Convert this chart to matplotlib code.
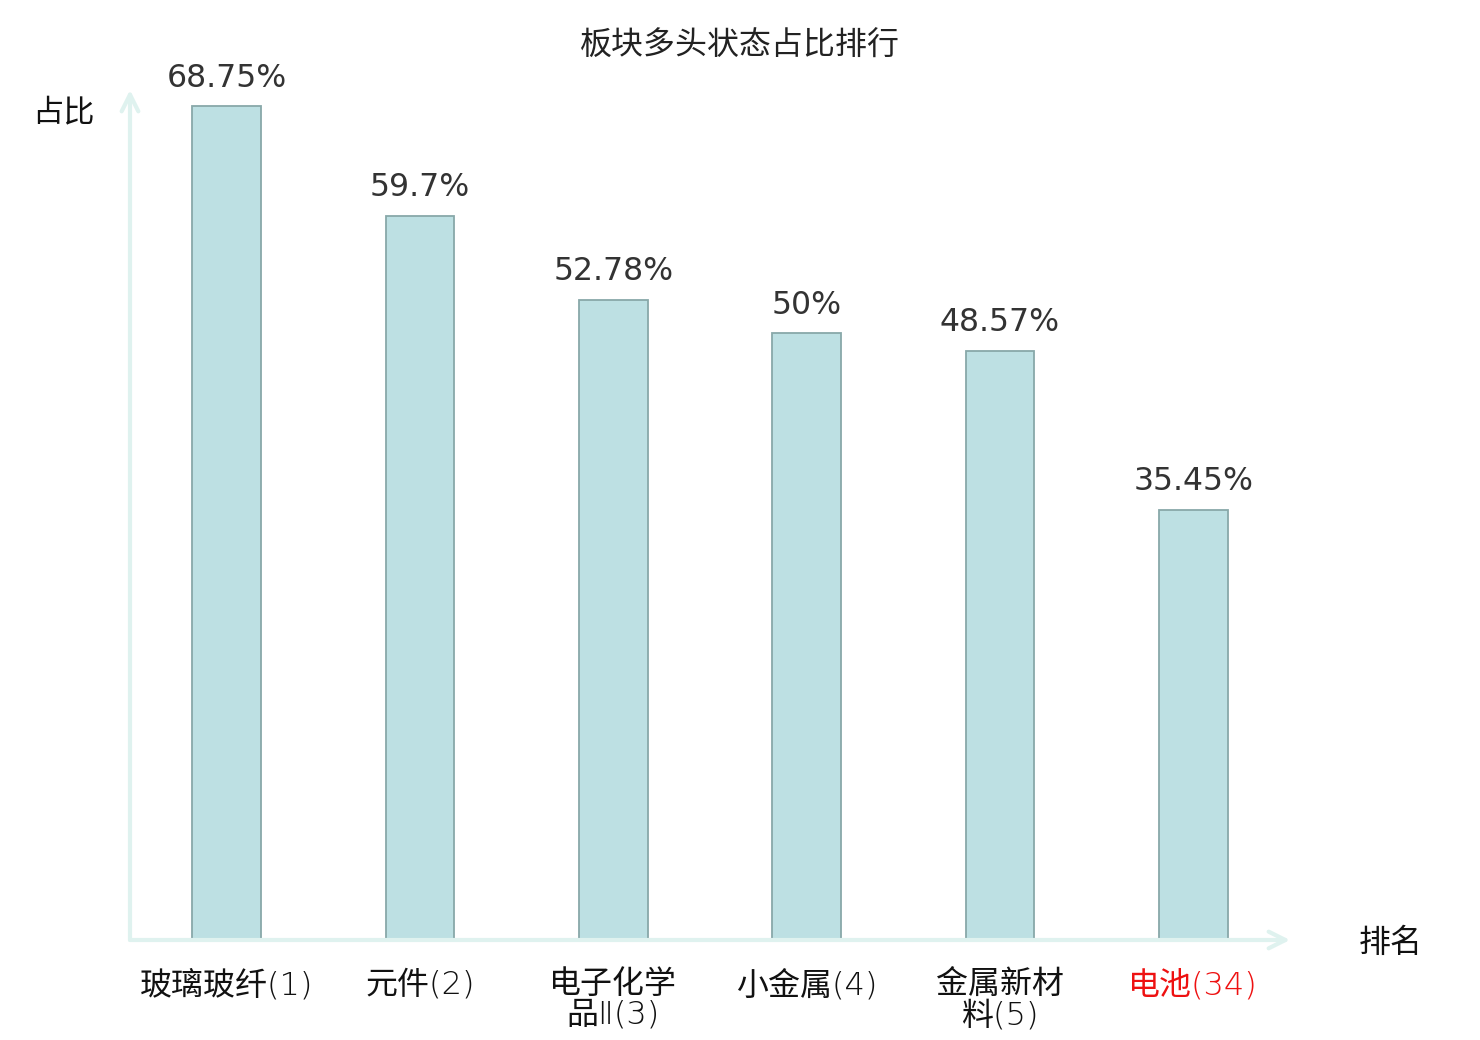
import os
import matplotlib
matplotlib.use("Agg")
import matplotlib.pyplot as plt
from matplotlib.font_manager import FontProperties

plt.rcParams['font.family'] = ['Noto Sans CJK SC', 'DejaVu Sans']

categories = ['玻璃玻纤(1)', '元件(2)', '电子化学\n品Ⅱ(3)', '小金属(4)', '金属新材\n料(5)', '电池(34)']
values = [68.75, 59.7, 52.78, 50, 48.57, 35.45]
value_labels = ['68.75%', '59.7%', '52.78%', '50%', '48.57%', '35.45%']
label_colors = ['#111111'] * 5 + ['#ee1111']

dejavu = FontProperties(fname=os.path.join(matplotlib.get_data_path(), 'fonts', 'ttf', 'DejaVuSans.ttf'), size=22.7)

W, H = 1480, 1040
fig = plt.figure(figsize=(W / 100, H / 100), dpi=100)
ax = fig.add_axes([130 / W, 100 / H, 1160 / W, 850 / H])

x = list(range(len(categories)))
ax.bar(x, values, width=0.355, color='#bde0e3', edgecolor='#88a8a9', linewidth=1.3, zorder=3)

for xi, v, lab in zip(x, values, value_labels):
    ax.annotate(lab, (xi, v), xytext=(0, 9), textcoords='offset points',
                ha='center', va='bottom', color='#333333', fontproperties=dejavu)

ax.set_xlim(-0.5, 5.5)
ax.set_ylim(0, 70.07)
for s in ax.spines.values():
    s.set_visible(False)
ax.set_yticks([])
ax.set_xticks(x)
ax.set_xticklabels(categories, fontsize=23, linespacing=1.02,
                   fontfamily=['DejaVu Sans', 'Noto Sans CJK SC'], fontweight=200)
for t, c in zip(ax.get_xticklabels(), label_colors):
    t.set_color(c)
ax.tick_params(axis='x', length=0, pad=21)

# axis arrows
axis_col = '#dff2ef'
ax.annotate('', xy=(0, 1.0), xytext=(0, 0), xycoords='axes fraction',
            arrowprops=dict(arrowstyle='->', color=axis_col, lw=3,
                            mutation_scale=30, shrinkA=0, shrinkB=0))
ax.annotate('', xy=(1.0, 0), xytext=(0, 0), xycoords='axes fraction',
            arrowprops=dict(arrowstyle='->', color=axis_col, lw=3,
                            mutation_scale=30, shrinkA=0, shrinkB=0))

fig.text(63 / W, 1 - 112 / H, '占比', ha='center', va='center', fontsize=22.5, color='#111111')
fig.text(1391 / W, 1 - 943 / H, '排名', ha='center', va='center', fontsize=23, color='#111111')
fig.text(740 / W, 1 - 46 / H, '板块多头状态占比排行', ha='center', va='center', fontsize=23, color='#222222')

fig.savefig('out.png', dpi=100)
